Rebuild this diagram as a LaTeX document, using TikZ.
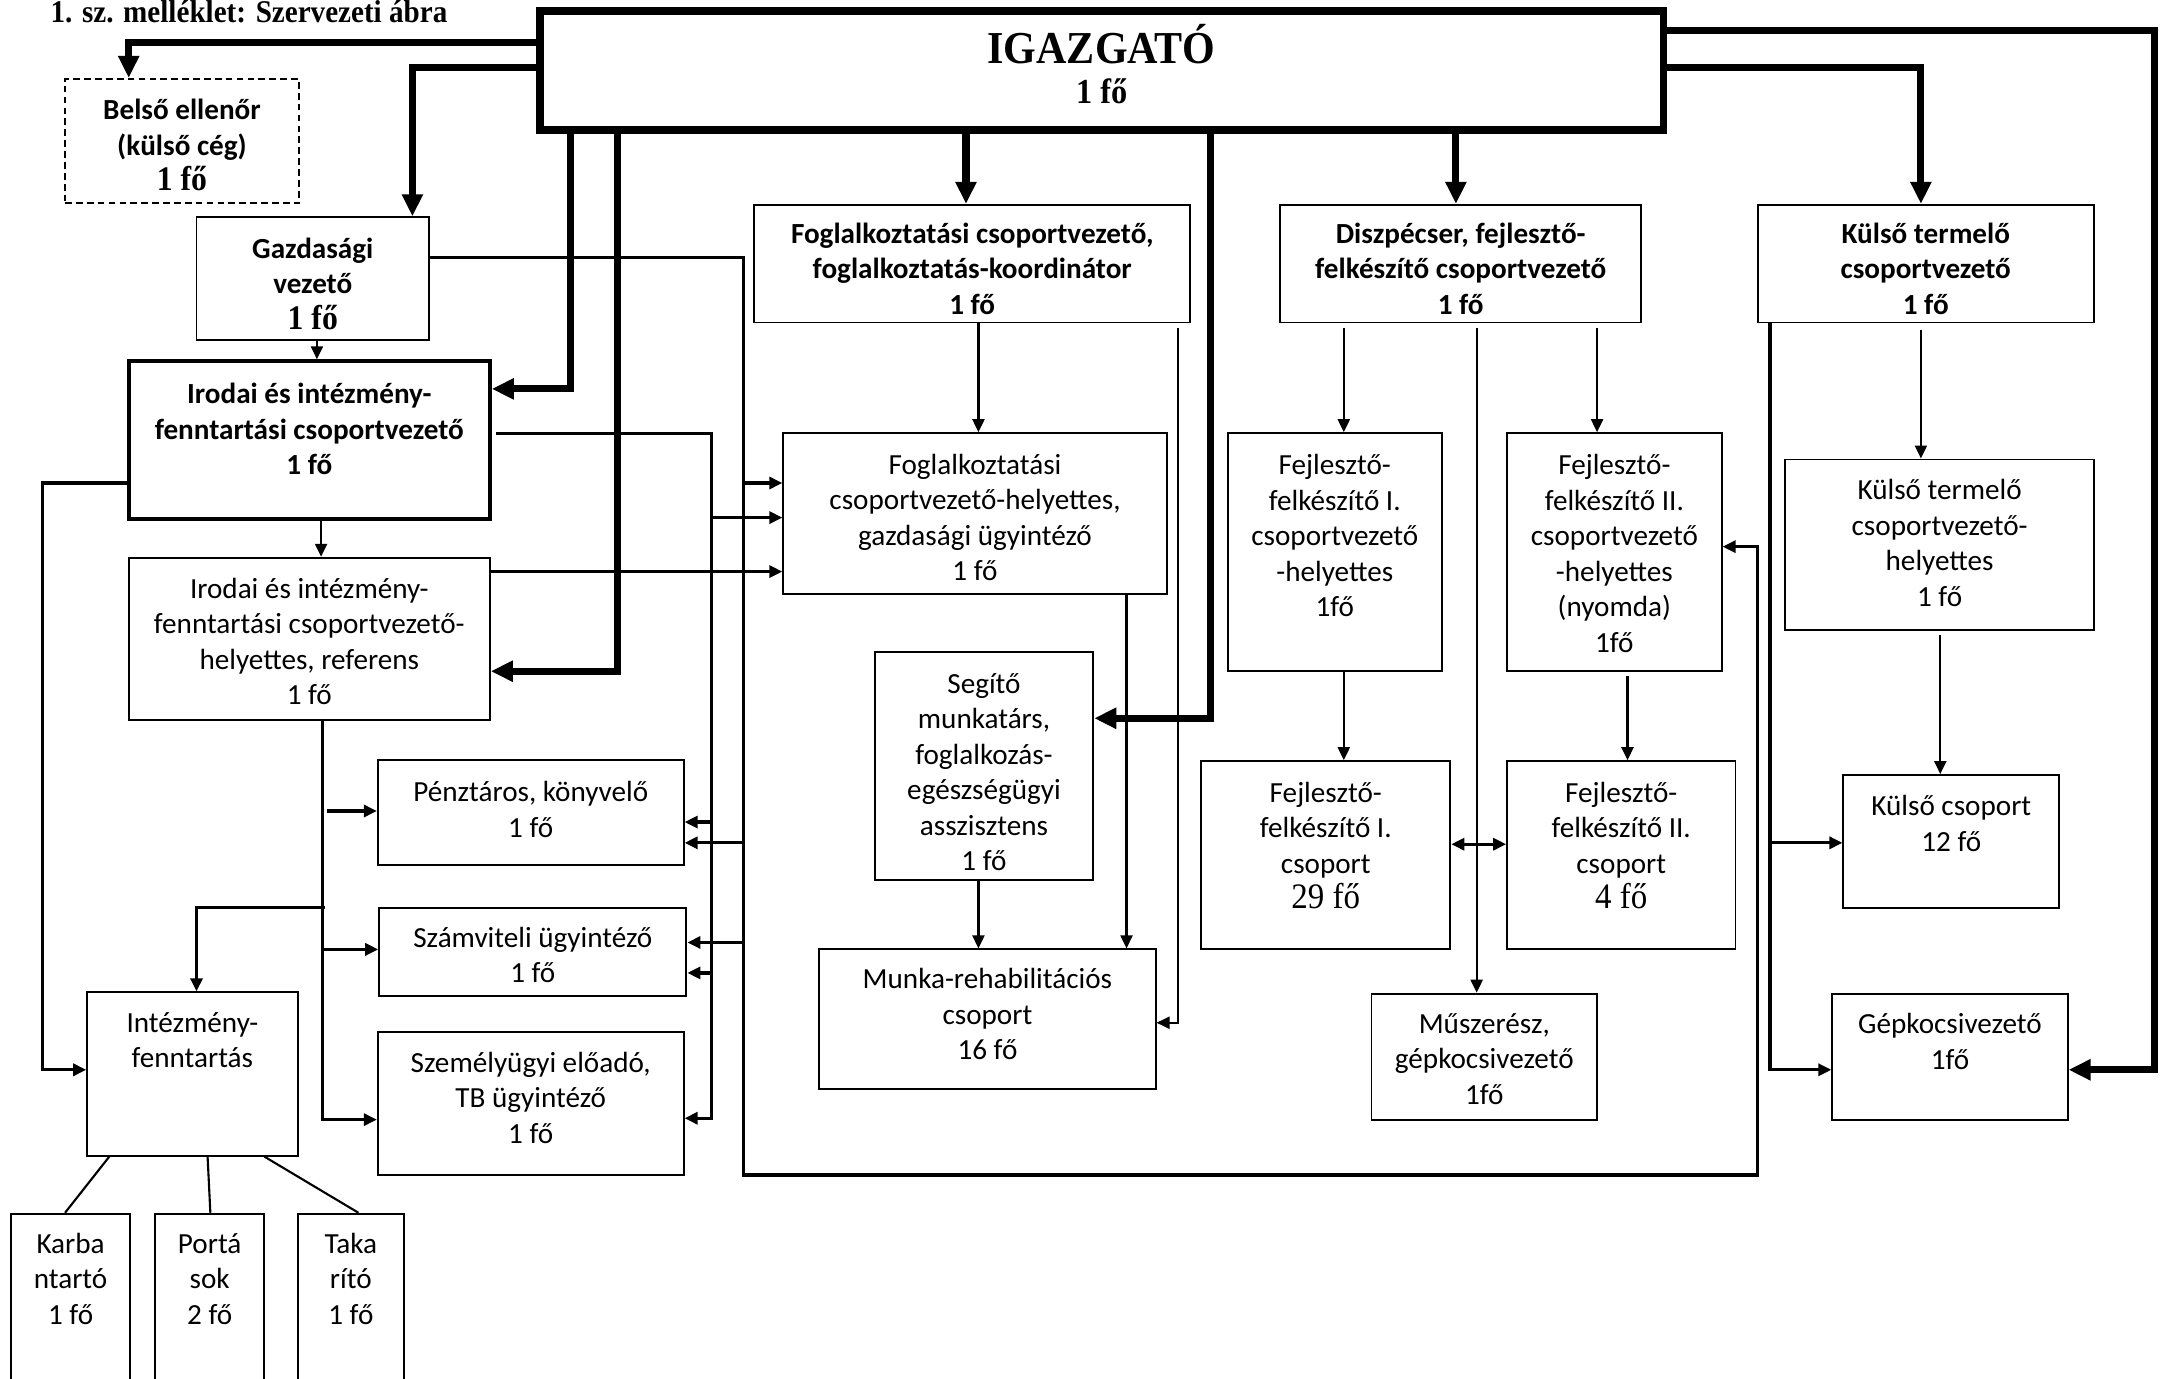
\documentclass[tikz,border=0pt]{standalone}
\usepackage{fontspec}
\setmainfont{Carlito}
\newfontfamily\tms[FakeStretch=0.92]{Liberation Serif}
\usetikzlibrary{arrows.meta,fit,calc}

\begin{document}
\begin{tikzpicture}[x=0.01384cm,y=-0.01384cm,
  >={Triangle[length=0.13cm,width=0.12cm]},
  box/.style={draw, line width=0.55pt, inner sep=0pt},
  boxb/.style={draw, line width=1.1pt, inner sep=0pt},
  boxd/.style={draw, line width=0.55pt, inner sep=0pt, dash pattern=on 1.9pt off 1.2pt},
  txt/.style={align=center, inner sep=0pt, font=\fontsize{8.3}{10.1}\selectfont},
  txtb/.style={align=center, inner sep=0pt, font=\fontsize{8.3}{10.1}\selectfont\bfseries},
  thk/.style={line width=2pt, -{Triangle[length=0.22cm,width=0.2cm]}},
  thn/.style={line width=0.6pt, ->},
  thm/.style={line width=0.9pt, ->},
  thml/.style={line width=0.9pt},
  thnl/.style={line width=0.6pt},
]
\useasboundingbox (0,0) rectangle (1568,996);
\clip (0,0) rectangle (1568,996);

% title
\node[anchor=base west, inner sep=0pt, font=\tms\bfseries\fontsize{9}{10}\selectfont] (title) at (36,16.5) {1. sz. melléklet: Szervezeti ábra};

% boxes
\node[draw, inner sep=0pt, line width=2.2pt, fit={(390,8) (1202,94)}] (igaz) {};
\node[boxd, fit={(47,57) (216,147)}] (belso) {};
\node[box, fit={(142,157) (310,246)}] (gazd) {};
\node[boxb, fit={(93,261) (354,375)}] (irodai) {};
\node[box, fit={(93,403) (354,520)}] (irhely) {};
\node[box, fit={(545,148) (860,233)}] (foglv) {};
\node[box, fit={(925,148) (1186,233)}] (diszp) {};
\node[box, fit={(1270,148) (1513,233)}] (kulsov) {};
\node[box, fit={(566,313) (843,429)}] (foglh) {};
\node[box, fit={(887,313) (1042,485)}] (fejl1h) {};
\node[box, fit={(1089,313) (1244,485)}] (fejl2h) {};
\node[box, fit={(1290,332) (1513,455)}] (kulsoh) {};
\node[box, fit={(632,471) (790,636)}] (segito) {};
\node[box, fit={(273,549) (494,625)}] (penz) {};
\node[box, fit={(274,656) (496,720)}] (szamv) {};
\node[box, fit={(273,746) (494,849)}] (szemely) {};
\node[box, fit={(63,717) (215,835)}] (intez) {};
\node[box, fit={(8,877) (94,1010)}] (karb) {};
\node[box, fit={(112,877) (191,1010)}] (porta) {};
\node[box, fit={(215,877) (292,1010)}] (taka) {};
\node[box, fit={(592,686) (835,787)}] (munka) {};
\node[box, fit={(868,550) (1048,686)}] (fejl1c) {};
\node[box, fit={(1089,550) (1254,686)}] (fejl2c) {};
\node[box, fit={(991,718) (1154,809)}] (musz) {};
\node[box, fit={(1332,560) (1488,656)}] (kulsoc) {};
\node[box, fit={(1324,718) (1494,809)}] (gepk) {};

% texts
\node[anchor=base, inner sep=0pt, font=\tms\bfseries\fontsize{13}{13}\selectfont] (t-igaz) at (796,46) {IGAZGATÓ};
\node[anchor=base, inner sep=0pt, font=\tms\bfseries\fontsize{10}{10}\selectfont] (t-igaz2) at (796,74.5) {1 fő};
\node[txtb] (t-belso) at (131.5,105) {Belső ellenőr\\(külső cég)\\{\tms\fontsize{9.8}{10}\selectfont 1 fő}};
\node[txtb] (t-gazd) at (226,205) {Gazdasági\\vezető\\{\tms\fontsize{9.8}{10}\selectfont 1 fő}};
\node[txtb] (t-irodai) at (223.5,310) {Irodai és intézmény-\\fenntartási csoportvezető\\1 fő};
\node[txt] (t-irhely) at (223.5,463.5) {Irodai és intézmény-\\fenntartási csoportvezető-\\helyettes, referens\\1 fő};
\node[txtb] (t-foglv) at (702.5,194) {Foglalkoztatási csoportvezető,\\foglalkoztatás-koordinátor\\1 fő};
\node[txtb] (t-diszp) at (1055.5,194) {Diszpécser, fejlesztő-\\felkészítő csoportvezető\\1 fő};
\node[txtb] (t-kulsov) at (1391.5,194) {Külső termelő\\csoportvezető\\1 fő};
\node[txt] (t-foglh) at (704.5,374) {Foglalkoztatási\\csoportvezető-helyettes,\\gazdasági ügyintéző\\1 fő};
\node[txt] (t-fejl1h) at (964.5,387) {Fejlesztő-\\felkészítő I.\\csoportvezető\\-helyettes\\1fő};
\node[txt] (t-fejl2h) at (1166.5,400) {Fejlesztő-\\felkészítő II.\\csoportvezető\\-helyettes\\(nyomda)\\1fő};
\node[txt] (t-kulsoh) at (1401.5,392.5) {Külső termelő\\csoportvezető-\\helyettes\\1 fő};
\node[txt] (t-segito) at (711,558) {Segítő\\munkatárs,\\foglalkozás-\\egészségügyi\\asszisztens\\1 fő};
\node[txt] (t-penz) at (383.5,585) {Pénztáros, könyvelő\\1 fő};
\node[txt] (t-szamv) at (385,690) {Számviteli ügyintéző\\1 fő};
\node[txt] (t-szemely) at (383.5,793) {Személyügyi előadó,\\TB ügyintéző\\1 fő};
\node[txt] (t-intez) at (139,751.5) {Intézmény-\\fenntartás};
\node[txt] (t-karb) at (51,924) {Karba\\ntartó\\1 fő};
\node[txt] (t-porta) at (151.5,924) {Portá\\sok\\2 fő};
\node[txt] (t-taka) at (253.5,924) {Taka\\rító\\1 fő};
\node[txt] (t-munka) at (713.5,733) {Munka-rehabilitációs\\csoport\\16 fő};
\node[txt] (t-fejl1c) at (958,611) {Fejlesztő-\\felkészítő I.\\csoport\\{\tms\fontsize{10.2}{10}\selectfont 29 fő}};
\node[txt] (t-fejl2c) at (1171.5,611) {Fejlesztő-\\felkészítő II.\\csoport\\{\tms\fontsize{10.2}{10}\selectfont 4 fő}};
\node[txt] (t-musz) at (1072.5,765) {Műszerész,\\gépkocsivezető\\1fő};
\node[txt] (t-kulsoc) at (1410,595) {Külső csoport\\12 fő};
\node[txt] (t-gepk) at (1409,752.5) {Gépkocsivezető\\1fő};

% thick connectors from IGAZGATÓ
\draw[thk] (igaz.west |- 0,31) -| (93,0 |- belso.north);
\draw[thk] (igaz.west |- 0,49) -| (298,0 |- gazd.north);
\draw[thk] (412,0 |- igaz.south) |- (irodai.east |- 0,281);
\draw[thk] (446,0 |- igaz.south) |- (irhely.east |- 0,485);
\draw[thk] (698,0 |- igaz.south) -- (698,0 |- foglv.north);
\draw[thk] (875,0 |- igaz.south) |- (segito.east |- 0,519);
\draw[thk] (1052,0 |- igaz.south) -- (1052,0 |- diszp.north);
\draw[thk] (igaz.east |- 0,49) -| (1388,0 |- kulsov.north);
\draw[thk] (igaz.east |- 0,22) -- (1557,22) |- (gepk.east |- 0,773);

% left side
\draw[thn] (229,0 |- gazd.south) -- (229,0 |- irodai.north);
\draw[thn] (232,0 |- irodai.south) -- (232,0 |- irhely.north);
% Gazdasági bus
\draw[thm] (gazd.east |- 0,186) -| (537,849) -| (1270,395) -- (fejl2h.east |- 0,395);
\draw[thm] (537,349) -- (foglh.west |- 0,349);
\draw[thm] (537,609) -- (penz.east |- 0,609);
\draw[thm] (537,681) -- (szamv.east |- 0,681);
% Irodai bus
\draw[thm, shorten <=1.2pt] (irodai.east |- 0,313) -| (514,808) -- (szemely.east |- 0,808);
\draw[thm] (514,374) -- (foglh.west |- 0,374);
\draw[thm] (514,594) -- (penz.east |- 0,594);
\draw[thm] (514,703) -- (szamv.east |- 0,703);
\draw[thm] (irhely.east |- 0,413) -- (foglh.west |- 0,413);
% Irodai helyettes bus
\draw[thm] (233,0 |- irhely.south) |- (szemely.west |- 0,809);
\draw[thm] (236,586) -- (penz.west |- 0,586);
\draw[thm] (233,686) -- (szamv.west |- 0,686);
\draw[thm] (235,656) -| (142,0 |- intez.north);
\draw[thm] (irodai.west |- 0,349) -| (31,773) -- (intez.west |- 0,773);
% Intézmény-fenntartás
\draw[thnl] (79,0 |- intez.south) -- (47,0 |- karb.north);
\draw[thnl] (150,0 |- intez.south) -- (152,0 |- porta.north);
\draw[thnl] (191,0 |- intez.south) -- (259,0 |- taka.north);
% Foglalkoztatási
\draw[thn] (707,0 |- foglv.south) -- (707,0 |- foglh.north);
\draw[thn, shorten <=1.2pt] (851,0 |- foglv.south) |- (munka.east |- 0,739);
\draw[thn] (814,0 |- foglh.south) -- (814,0 |- munka.north);
\draw[thn] (707,0 |- segito.south) -- (707,0 |- munka.north);
% Diszpécser
\draw[thn, shorten <=1.2pt] (971,0 |- diszp.south) -- (971,0 |- fejl1h.north);
\draw[thn, shorten <=1.2pt] (1067,0 |- diszp.south) -- (1067,0 |- musz.north);
\draw[thn, shorten <=1.2pt] (1154,0 |- diszp.south) -- (1154,0 |- fejl2h.north);
\draw[thn] (971,0 |- fejl1h.south) -- (971,0 |- fejl1c.north);
\draw[thn, shorten <=1.2pt] (1176,0 |- fejl2h.south) -- (1176,0 |- fejl2c.north);
\draw[line width=0.9pt, <->] (fejl1c.east |- 0,610) -- (fejl2c.west |- 0,610);
% Külső termelő
\draw[thn, shorten <=2pt] (1388,0 |- kulsov.south) -- (1388,0 |- kulsoh.north);
\draw[thn, shorten <=1.2pt] (1402,0 |- kulsoh.south) -- (1402,0 |- kulsoc.north);
\draw[thm] (1279,0 |- kulsov.south) |- (gepk.west |- 0,773);
\draw[thm] (1279,609) -- (kulsoc.west |- 0,609);
\end{tikzpicture}
\end{document}
